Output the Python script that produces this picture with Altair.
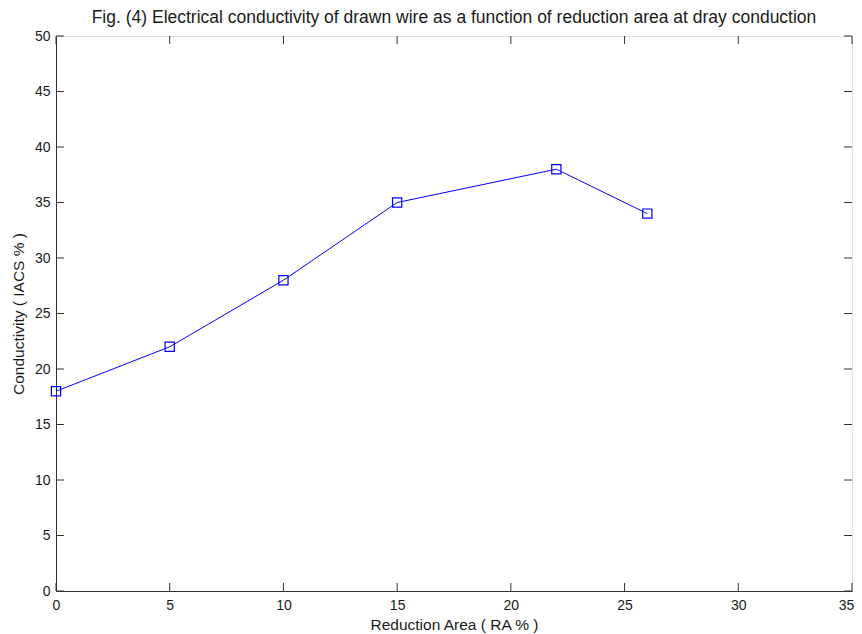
import altair as alt
import pandas as pd

reduction_area = [0, 5, 10, 15, 22, 26]
conductivity = [18, 22, 28, 35, 38, 34]
x_ticks = [0, 5, 10, 15, 20, 25, 30, 35]
y_ticks = [0, 5, 10, 15, 20, 25, 30, 35, 40, 45, 50]

W, H = 796, 555
FONT = "Liberation Sans, Arial, sans-serif"

df = pd.DataFrame({"ra": reduction_area, "c": conductivity})
xt = pd.DataFrame({"t": x_ticks})
yt = pd.DataFrame({"t": y_ticks})

xs = alt.Scale(domain=[0, 35], nice=False)
ys = alt.Scale(domain=[0, 50], nice=False)

base_x = alt.X("ra:Q", scale=xs, title="Reduction Area ( RA % )",
               axis=alt.Axis(values=x_ticks, ticks=False, grid=False, labelPadding=7,
                             titlePadding=5, labelFontSize=14, titleFontSize=15.5,
                             labelFont=FONT, titleFont=FONT, titleFontWeight="normal",
                             labelColor="#1a1a1a", titleColor="#1a1a1a",
                             labelOffset={"condition": {"test": "datum.value == 35", "value": -6}, "value": 0},
                             domainColor="#333333", labelFlush=False))
base_y = alt.Y("c:Q", scale=ys, title="Conductivity ( IACS % )",
               axis=alt.Axis(values=y_ticks, ticks=False, grid=False, labelPadding=6,
                             titlePadding=8, labelFontSize=14, titleFontSize=15.5,
                             labelFont=FONT, titleFont=FONT, titleFontWeight="normal",
                             labelColor="#1a1a1a", titleColor="#1a1a1a",
                             domainColor="#333333", labelFlush=False))

line = alt.Chart(df).mark_line(color="#0000ff", strokeWidth=1).encode(x=base_x, y=base_y)
pts = alt.Chart(df).mark_point(shape="square", size=85, filled=False, color="#0000ff",
                               strokeWidth=1.2, opacity=1).encode(
    x=alt.X("ra:Q", scale=xs), y=alt.Y("c:Q", scale=ys))

tick_col = "#333333"
xb = alt.Chart(xt).mark_rule(color=tick_col, strokeWidth=1).encode(
    x=alt.X("t:Q", scale=xs), y=alt.value(H), y2=alt.value(H - 8))
xtop = alt.Chart(xt).mark_rule(color=tick_col, strokeWidth=1).encode(
    x=alt.X("t:Q", scale=xs), y=alt.value(0), y2=alt.value(8))
yl = alt.Chart(yt).mark_rule(color=tick_col, strokeWidth=1).encode(
    y=alt.Y("t:Q", scale=ys), x=alt.value(0), x2=alt.value(8))
yr = alt.Chart(yt).mark_rule(color=tick_col, strokeWidth=1).encode(
    y=alt.Y("t:Q", scale=ys), x=alt.value(W - 8), x2=alt.value(W))

chart = alt.layer(xb, xtop, yl, yr, line, pts).properties(
    width=W, height=H,
    title=alt.TitleParams(
        "Fig. (4) Electrical conductivity of drawn wire as a function of reduction area at dray conduction",
        font=FONT, fontSize=17.5, fontWeight="normal", color="#1a1a1a", anchor="middle", offset=3),
    autosize=alt.AutoSizeParams(type="none"),
    padding={"left": 48, "top": 28, "right": 2, "bottom": 43},
).configure_view(stroke="#333333", strokeWidth=1).configure(background="white")

chart.save("out.html", embed_options={"renderer": "svg", "actions": False})
